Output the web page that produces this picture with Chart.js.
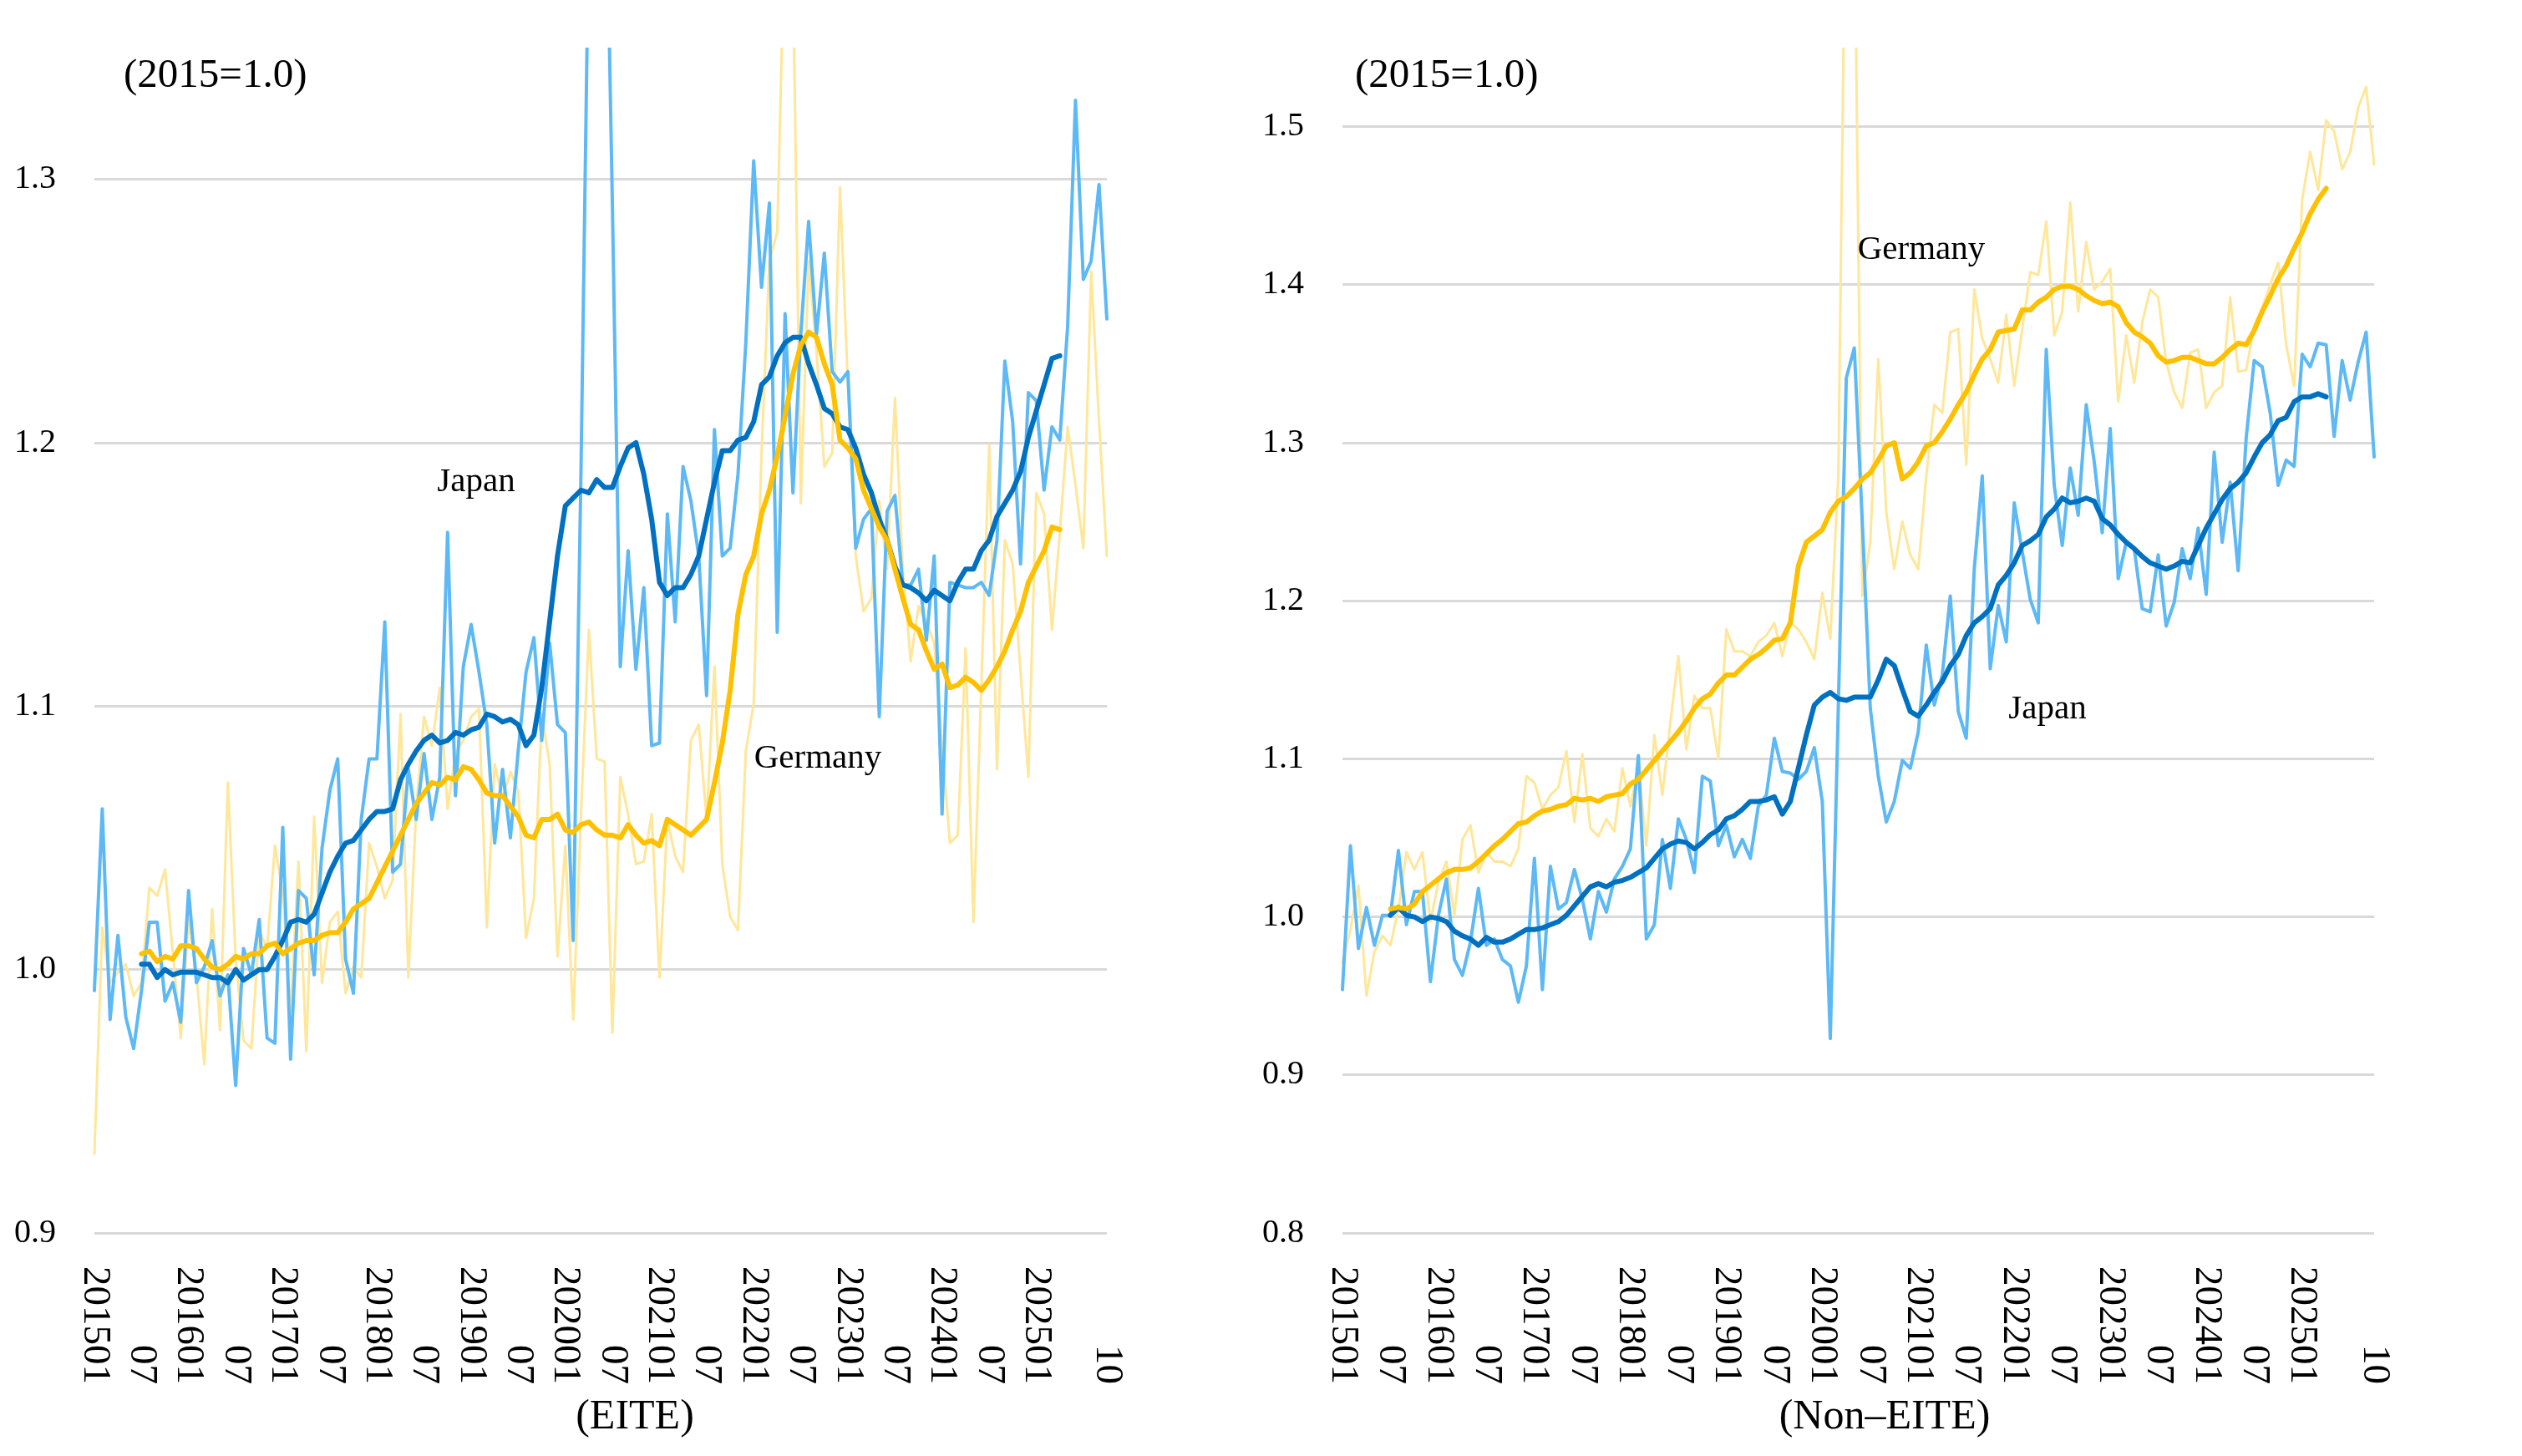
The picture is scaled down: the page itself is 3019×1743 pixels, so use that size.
<!DOCTYPE html>
<html>
<head>
<meta charset="utf-8">
<script src="https://cdn.jsdelivr.net/npm/chart.js@4.4.1/dist/chart.umd.min.js"></script>
<style>
  html, body { margin: 0; padding: 0; background: #ffffff; }
  #left { position: absolute; left: 0; top: 0; width: 1510px; height: 1743px; }
  #right { position: absolute; left: 1510px; top: 0; width: 1509px; height: 1743px; }
</style>
</head>
<body>
<div id="left"><canvas id="chartEite"></canvas></div>
<div id="right"><canvas id="chartNonEite"></canvas></div>
<script>
// months 201501 .. 202510
const months = []
for (let y = 2015; y <= 2025; y++) {
  for (let m = 1; m <= 12; m++) {
    if (y === 2025 && m > 10) break
    months.push(String(y) + String(m).padStart(2, '0'))
  }
}

// categories that carry a tick label
const tickCats = ['201501','201507','201601','201607','201701','201707','201801','201807',
  '201901','201907','202001','202007','202101','202107','202201','202207','202301','202307',
  '202401','202407','202501','202510']

const yTicksEite = [0.9, 1.0, 1.1, 1.2, 1.3]
const yTicksNonEite = [0.8, 0.9, 1.0, 1.1, 1.2, 1.3, 1.4, 1.5]

// ---- EITE (left) ----
const jpEite = [
  0.992,1.061,0.981,1.013,0.982,0.970,0.992,1.018,1.018,0.988,0.995,0.980,
  1.030,0.995,1.001,1.011,0.990,0.998,0.956,1.008,0.998,1.019,0.974,0.972,
  1.054,0.966,1.030,1.027,0.998,1.046,1.068,1.080,1.004,0.991,1.057,1.080,
  1.080,1.132,1.037,1.040,1.076,1.057,1.082,1.057,1.073,1.166,1.066,1.115,
  1.131,1.113,1.093,1.048,1.076,1.050,1.083,1.113,1.126,1.087,1.124,1.093,
  1.090,1.011,1.190,1.400,1.550,1.450,1.290,1.115,1.159,1.114,1.145,1.085,
  1.086,1.173,1.132,1.191,1.178,1.157,1.104,1.205,1.157,1.160,1.188,1.238,
  1.307,1.259,1.291,1.128,1.249,1.181,1.241,1.284,1.241,1.272,1.227,1.223,
  1.227,1.160,1.171,1.175,1.096,1.174,1.180,1.146,1.146,1.152,1.125,1.157,
  1.059,1.147,1.146,1.145,1.145,1.147,1.142,1.163,1.231,1.208,1.154,1.219,
  1.216,1.182,1.206,1.201,1.244,1.330,1.262,1.269,1.298,1.247]
const deEite = [
  0.930,1.016,0.995,0.999,1.002,0.990,0.995,1.031,1.028,1.038,1.006,0.974,
  1.019,0.998,0.964,1.023,0.977,1.071,1.004,0.973,0.970,1.015,1.008,1.047,
  1.029,0.984,1.041,0.969,1.058,0.995,1.018,1.022,0.991,1.001,0.997,1.048,
  1.039,1.027,1.034,1.097,0.997,1.061,1.096,1.085,1.107,1.061,1.082,1.087,
  1.096,1.099,1.016,1.078,1.065,1.075,1.068,1.012,1.027,1.097,1.078,1.005,
  1.047,0.981,1.059,1.129,1.080,1.079,0.976,1.073,1.059,1.040,1.041,1.059,
  0.997,1.057,1.043,1.037,1.087,1.093,1.057,1.115,1.040,1.020,1.015,1.083,
  1.101,1.196,1.269,1.280,1.400,1.380,1.177,1.269,1.235,1.191,1.196,1.297,
  1.222,1.157,1.136,1.141,1.178,1.152,1.217,1.152,1.117,1.138,1.132,1.124,
  1.085,1.048,1.051,1.122,1.018,1.107,1.199,1.076,1.163,1.154,1.113,1.073,
  1.181,1.173,1.129,1.166,1.206,1.184,1.160,1.265,1.208,1.157]
const jpEiteMA = [
  null,null,null,null,null,null,1.002,1.002,0.997,1.000,0.998,0.999,
  0.999,0.999,0.998,0.997,0.997,0.995,1.000,0.996,0.998,1.000,1.000,1.005,
  1.011,1.018,1.019,1.018,1.021,1.029,1.037,1.043,1.048,1.049,1.053,1.057,
  1.060,1.060,1.061,1.072,1.078,1.083,1.087,1.089,1.086,1.087,1.090,1.089,
  1.091,1.092,1.097,1.096,1.094,1.095,1.093,1.085,1.089,1.107,1.132,1.157,
  1.176,1.179,1.182,1.181,1.186,1.183,1.183,1.191,1.198,1.200,1.188,1.171,
  1.147,1.142,1.145,1.145,1.150,1.157,1.171,1.185,1.197,1.197,1.201,1.202,
  1.208,1.222,1.225,1.233,1.238,1.240,1.240,1.230,1.222,1.213,1.211,1.206,
  1.205,1.198,1.188,1.181,1.171,1.163,1.153,1.146,1.145,1.143,1.140,1.144,
  1.142,1.140,1.147,1.152,1.152,1.159,1.163,1.172,1.177,1.182,1.189,1.202,
  1.212,1.222,1.232,1.233,null,null,null,null,null,null]
const deEiteMA = [
  null,null,null,null,null,null,1.006,1.007,1.003,1.005,1.004,1.009,
  1.009,1.008,1.004,1.001,1.000,1.002,1.005,1.004,1.006,1.006,1.009,1.010,
  1.006,1.008,1.010,1.011,1.011,1.013,1.014,1.014,1.018,1.023,1.025,1.027,
  1.033,1.039,1.045,1.051,1.057,1.063,1.067,1.071,1.070,1.073,1.072,1.077,
  1.076,1.072,1.067,1.066,1.066,1.062,1.058,1.051,1.050,1.057,1.057,1.059,
  1.053,1.052,1.055,1.056,1.053,1.051,1.051,1.050,1.055,1.051,1.048,1.049,
  1.047,1.057,1.055,1.053,1.051,1.054,1.057,1.071,1.086,1.106,1.135,1.150,
  1.157,1.173,1.182,1.195,1.210,1.226,1.237,1.242,1.240,1.230,1.222,1.201,
  1.198,1.194,1.182,1.175,1.168,1.163,1.152,1.141,1.131,1.129,1.121,1.114,
  1.116,1.107,1.108,1.111,1.109,1.106,1.110,1.115,1.121,1.129,1.136,1.147,
  1.153,1.159,1.168,1.167,null,null,null,null,null,null]

// ---- Non-EITE (right) ----
const jpNonEite = [
  0.954,1.045,0.980,1.006,0.982,1.001,1.001,1.042,0.995,1.016,1.016,0.959,
  1.001,1.024,0.973,0.963,0.984,1.018,0.982,0.986,0.973,0.969,0.946,0.969,
  1.037,0.954,1.032,1.005,1.009,1.030,1.011,0.986,1.016,1.003,1.024,1.032,
  1.043,1.102,0.986,0.995,1.049,1.018,1.062,1.049,1.028,1.089,1.086,1.045,
  1.058,1.038,1.049,1.037,1.070,1.077,1.113,1.092,1.091,1.087,1.092,1.107,
  1.073,0.923,1.132,1.341,1.360,1.250,1.132,1.089,1.060,1.073,1.099,1.094,
  1.117,1.172,1.134,1.153,1.203,1.130,1.113,1.220,1.279,1.157,1.197,1.174,
  1.262,1.231,1.201,1.186,1.359,1.273,1.235,1.284,1.254,1.324,1.288,1.243,
  1.309,1.214,1.237,1.233,1.195,1.193,1.229,1.184,1.199,1.233,1.214,1.246,
  1.204,1.294,1.237,1.275,1.219,1.303,1.352,1.348,1.319,1.273,1.289,1.285,
  1.356,1.348,1.363,1.362,1.304,1.352,1.327,1.351,1.370,1.291]
const deNonEite = [
  0.971,0.992,1.020,0.950,0.978,0.988,0.982,1.005,1.041,1.030,1.041,0.997,
  1.022,1.035,1.001,1.049,1.058,1.028,1.041,1.035,1.035,1.032,1.043,1.089,
  1.085,1.068,1.077,1.082,1.105,1.060,1.103,1.056,1.051,1.062,1.054,1.094,
  1.070,1.096,1.045,1.115,1.077,1.123,1.165,1.106,1.140,1.132,1.132,1.100,
  1.182,1.168,1.168,1.165,1.174,1.178,1.186,1.165,1.186,1.182,1.174,1.163,
  1.205,1.176,1.279,1.700,1.650,1.203,1.237,1.353,1.256,1.220,1.250,1.229,
  1.220,1.279,1.324,1.319,1.370,1.372,1.286,1.397,1.366,1.353,1.338,1.381,
  1.336,1.372,1.408,1.406,1.440,1.368,1.383,1.452,1.383,1.427,1.397,1.402,
  1.410,1.326,1.368,1.338,1.376,1.397,1.392,1.351,1.332,1.322,1.357,1.359,
  1.322,1.332,1.336,1.392,1.345,1.346,1.374,1.385,1.400,1.414,1.362,1.336,
  1.454,1.484,1.460,1.504,1.497,1.473,1.484,1.512,1.525,1.476]
const jpNonEiteMA = [
  null,null,null,null,null,null,1.001,1.006,1.001,1.000,0.997,1.000,
  0.999,0.997,0.991,0.988,0.986,0.982,0.987,0.984,0.984,0.986,0.989,0.992,
  0.992,0.993,0.995,0.997,1.001,1.007,1.013,1.019,1.021,1.019,1.022,1.023,
  1.025,1.028,1.031,1.037,1.043,1.046,1.048,1.047,1.043,1.047,1.052,1.055,
  1.062,1.064,1.068,1.073,1.073,1.074,1.076,1.065,1.073,1.094,1.115,1.134,
  1.139,1.142,1.138,1.137,1.139,1.139,1.139,1.150,1.163,1.159,1.144,1.130,
  1.127,1.134,1.142,1.149,1.159,1.166,1.178,1.186,1.190,1.195,1.210,1.216,
  1.224,1.235,1.238,1.242,1.253,1.258,1.265,1.262,1.263,1.265,1.263,1.252,
  1.248,1.242,1.237,1.233,1.228,1.224,1.222,1.220,1.222,1.225,1.224,1.235,
  1.246,1.255,1.264,1.271,1.275,1.281,1.291,1.300,1.305,1.314,1.316,1.326,
  1.329,1.329,1.331,1.329,null,null,null,null,null,null]
const deNonEiteMA = [
  null,null,null,null,null,null,1.005,1.006,1.005,1.008,1.016,1.020,
  1.024,1.028,1.030,1.030,1.031,1.035,1.040,1.045,1.049,1.054,1.059,1.060,
  1.064,1.067,1.068,1.070,1.071,1.075,1.074,1.075,1.073,1.076,1.077,1.078,
  1.084,1.087,1.093,1.099,1.105,1.111,1.117,1.124,1.132,1.138,1.141,1.148,
  1.153,1.153,1.158,1.163,1.166,1.170,1.175,1.176,1.186,1.222,1.237,1.241,
  1.245,1.256,1.263,1.266,1.271,1.277,1.281,1.289,1.298,1.300,1.277,1.281,
  1.288,1.298,1.300,1.307,1.315,1.324,1.332,1.343,1.353,1.359,1.370,1.371,
  1.372,1.384,1.384,1.389,1.392,1.397,1.399,1.399,1.397,1.393,1.390,1.388,
  1.389,1.386,1.376,1.370,1.367,1.363,1.355,1.351,1.352,1.354,1.354,1.352,
  1.350,1.350,1.354,1.359,1.363,1.362,1.371,1.383,1.393,1.404,1.412,1.423,
  1.433,1.445,1.454,1.461,null,null,null,null,null,null]

const FONT = '"Liberation Serif", "Times New Roman", serif'

// draws tick labels, unit note, series names and the panel title
const panelText = {
  id: 'panelText',
  afterDraw(chart, args, opts) {
    const ctx = chart.ctx
    const area = chart.chartArea
    const xs = chart.scales.x
    const ys = chart.scales.y
    ctx.save()
    ctx.fillStyle = '#000000'

    ctx.font = '40px ' + FONT
    ctx.textAlign = 'right'
    ctx.textBaseline = 'middle'
    opts.yTicks.forEach(v => {
      ctx.fillText(v.toFixed(1), area.left - 46, ys.getPixelForValue(v))
    })

    ctx.font = '47px ' + FONT
    tickCats.forEach(c => {
      const px = xs.getPixelForValue(months.indexOf(c))
      const txt = c.slice(4) === '01' ? c : c.slice(4)
      ctx.save()
      ctx.translate(px, area.bottom + 181)
      ctx.rotate(Math.PI / 2)
      ctx.textAlign = 'right'
      ctx.textBaseline = 'middle'
      ctx.fillText(txt, 0, 0)
      ctx.restore()
    })

    ctx.font = '49px ' + FONT
    ctx.textAlign = 'left'
    ctx.fillText('(2015=1.0)', opts.unitX, 91)

    ctx.font = '41px ' + FONT
    ctx.textAlign = 'center'
    opts.names.forEach(n => ctx.fillText(n.text, n.x, n.y))

    ctx.font = '50px ' + FONT
    ctx.fillText(opts.title, opts.titleX, 1697)
    ctx.restore()
  }
}

function makeDatasets(jp, de, jpMA, deMA) {
  const base = { pointRadius: 0, tension: 0, borderJoinStyle: 'round', borderCapStyle: 'round', fill: false }
  return [
    Object.assign({ label: 'Germany (12MA)', data: deMA, borderColor: '#FFC000', borderWidth: 6, order: 0 }, base),
    Object.assign({ label: 'Japan (12MA)', data: jpMA, borderColor: '#0070C0', borderWidth: 6, order: 1 }, base),
    Object.assign({ label: 'Japan', data: jp, borderColor: '#5CB9F6', borderWidth: 4, order: 2 }, base),
    Object.assign({ label: 'Germany', data: de, borderColor: '#FFE699', borderWidth: 3, order: 3 }, base)
  ]
}

function makePanel(canvasId, datasets, panel) {
  const ctx = document.getElementById(canvasId).getContext('2d')
  return new Chart(ctx, {
    type: 'line',
    data: { labels: months, datasets: datasets },
    options: {
      responsive: true,
      maintainAspectRatio: false,
      devicePixelRatio: 1,
      animation: false,
      layout: { padding: panel.padding },
      plugins: {
        legend: { display: false },
        tooltip: { enabled: false },
        panelText: panel.text
      },
      scales: {
        x: {
          type: 'category',
          offset: false,
          grid: { display: false, drawTicks: false },
          border: { display: false },
          ticks: { display: false }
        },
        y: {
          min: panel.yMin,
          max: panel.yMax,
          afterBuildTicks: axis => { axis.ticks = panel.text.yTicks.map(v => ({ value: v })) },
          grid: { color: '#D9D9D9', lineWidth: 3, drawTicks: false, tickLength: 0 },
          border: { display: false },
          ticks: { display: false }
        }
      }
    },
    plugins: [panelText]
  })
}

makePanel('chartEite', makeDatasets(jpEite, deEite, jpEiteMA, deEiteMA), {
  padding: { left: 113, right: 185, top: 57, bottom: 267 },
  yMin: 0.9,
  yMax: 1.35,
  text: {
    yTicks: yTicksEite,
    unitX: 148,
    title: '(EITE)',
    titleX: 760,
    names: [
      { text: 'Japan', x: 570, y: 577 },
      { text: 'Germany', x: 979, y: 908 }
    ]
  }
})

makePanel('chartNonEite', makeDatasets(jpNonEite, deNonEite, jpNonEiteMA, deNonEiteMA), {
  padding: { left: 97, right: 177, top: 57, bottom: 267 },
  yMin: 0.8,
  yMax: 1.55,
  text: {
    yTicks: yTicksNonEite,
    unitX: 112,
    title: '(Non\u2013EITE)',
    titleX: 746,
    names: [
      { text: 'Germany', x: 790, y: 299 },
      { text: 'Japan', x: 941, y: 849 }
    ]
  }
})
</script>
</body>
</html>
